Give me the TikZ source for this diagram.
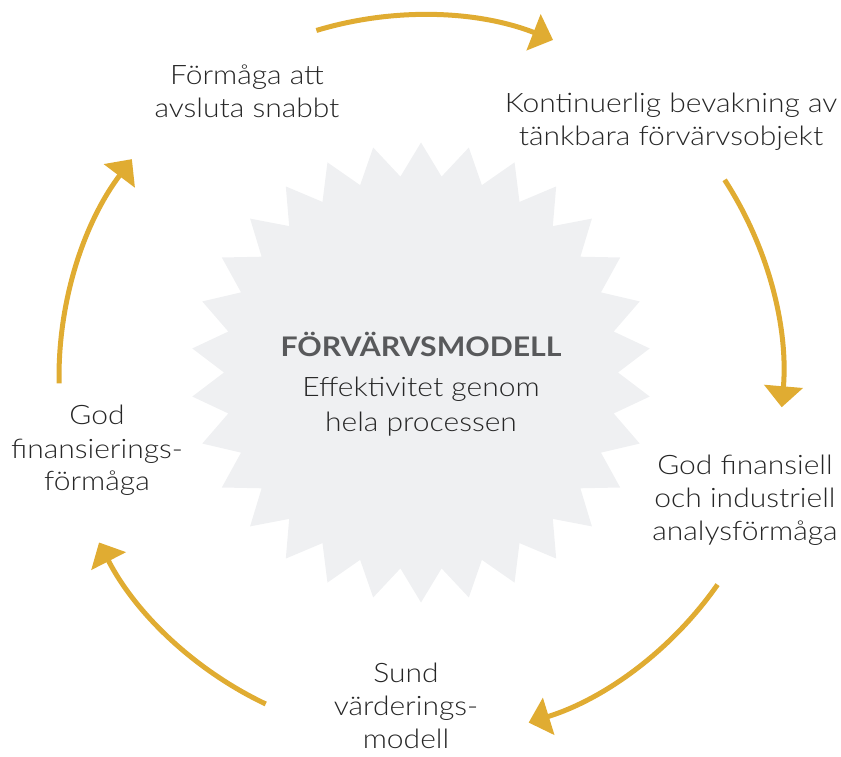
\documentclass[tikz,border=0pt]{standalone}
\usepackage{fontspec}
\IfFontExistsTF{Lato Light}
  {\setmainfont{Lato Light}[BoldFont={Lato Bold}, FakeStretch=1.12]}
  {\setmainfont{Lato}[FakeStretch=1.12]}
\usetikzlibrary{arrows.meta}
\definecolor{gold}{RGB}{224,172,50}
\definecolor{burst}{RGB}{239,240,242}
\definecolor{ink}{RGB}{38,38,38}
\definecolor{titleink}{RGB}{88,89,91}
\begin{document}
\begin{tikzpicture}[x=1pt,y=1pt,
  stage/.style={align=center, anchor=base, text=ink, inner sep=0pt,
    font=\fontsize{26.8}{33}\selectfont},
  flow/.style={draw=gold, line width=5pt, -{Triangle[length=21pt,width=38pt]}}]
\useasboundingbox (0,0) rectangle (841,756);

% central starburst: 30 points
\coordinate (star) at (421,383.5);
\fill[burst, shift={(421,383.5)}] (90:230)
  \foreach \i in {0,...,29} { -- ({96+12*\i}:197) -- ({102+12*\i}:230) } -- cycle;

% centre caption (anchored at the baseline of its last line)
\node[align=center, anchor=base, inner sep=0pt, text=ink,
  font=\fontsize{26.8}{35}\selectfont] (core) at (421,324)
  {{\color{titleink}\fontsize{27}{35}\selectfont\bfseries FÖRVÄRVSMODELL}\\[5pt]Effektivitet genom\\hela processen};

% stages around the cycle
\node[stage] (close)   at (247,638) {Förmåga att\\avsluta snabbt};
\node[stage] (watch)   at (671,610) {Kontinuerlig bevakning av\\tänkbara förvärvsobjekt};
\node[stage] (analyse) at (745,215) {God finansiell\\och industriell\\analysförmåga};
\node[stage] (value)   at (406,8)   {Sund\\värderings-\\modell};
\node[stage] (finance) at (97,265)  {God\\finansierings-\\förmåga};

% cycle arrows on a common circle
\coordinate (hub) at (421,379);
\path (hub) ++(106.8:362) coordinate (a1);
\path (hub) ++(33:362)    coordinate (a2);
\path (hub) ++(-35:362)   coordinate (a3);
\path (hub) ++(-115.4:362) coordinate (a4);
\path (hub) ++(181:362)   coordinate (a5);
\draw[flow] (a1) arc[start angle=106.8, end angle=68.6, radius=362];
\draw[flow] (a2) arc[start angle=33, end angle=-4.8, radius=362];
\draw[flow] (a3) arc[start angle=-35, end angle=-72.7, radius=362];
\draw[flow] (a4) arc[start angle=-115.4, end angle=-152.8, radius=362];
\draw[flow] (a5) arc[start angle=181, end angle=143, radius=362];
\end{tikzpicture}
\end{document}
